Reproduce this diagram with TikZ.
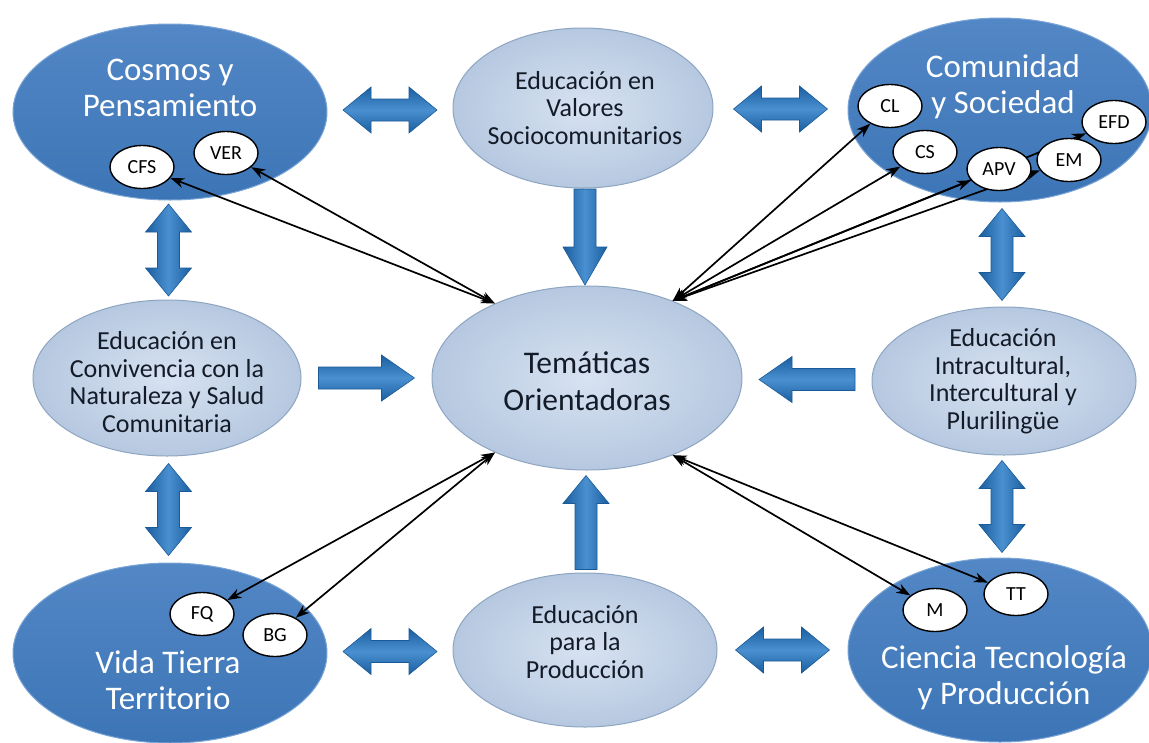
\documentclass[tikz,border=0pt]{standalone}
\usepackage{fontspec}
\setmainfont{Carlito}
\usetikzlibrary{shapes.geometric,arrows.meta,calc}
\pgfdeclarelayer{bg}
\pgfdeclarelayer{mid}
\pgfsetlayers{bg,mid,main}
\definecolor{darkTop}{HTML}{5387C6}
\definecolor{darkBot}{HTML}{3C75B6}
\definecolor{edgeD}{HTML}{7AA5D6}
\definecolor{lightIn}{HTML}{D7E2F1}
\definecolor{lightOut}{HTML}{B6C8E0}
\definecolor{edgeL}{HTML}{8EA5C2}
\definecolor{navytext}{HTML}{141B28}
\definecolor{arrDark}{HTML}{1A5E9F}
\definecolor{arrLight}{HTML}{4A90D0}
\definecolor{arrEdge}{HTML}{1A5A98}
\begin{document}
\begin{tikzpicture}[x=1pt,y=-1pt,
  bigdark/.style={ellipse, draw=edgeD, line width=1pt, top color=darkTop, bottom color=darkBot, inner sep=0pt},
  biglight/.style={ellipse, draw=edgeL, line width=1pt, inner color=lightIn, outer color=lightOut, inner sep=0pt},
  darktext/.style={text=white, align=center, inner sep=0pt, font=\fontsize{33}{36}\selectfont},
  lighttext/.style={text=navytext, align=center, inner sep=0pt, font=\fontsize{26}{27.5}\selectfont},
  centertext/.style={text=navytext, align=center, inner sep=0pt, font=\fontsize{31.5}{37}\selectfont},
  small/.style={ellipse, draw=black, line width=1.4pt, fill=white, minimum width=64pt, minimum height=43pt, inner sep=0pt, font=\fontsize{20}{22}\selectfont},
  link/.style={line width=1.7pt, {Stealth[length=14pt,width=10pt]}-{Stealth[length=14pt,width=10pt]}},
  barrowH/.style={top color=arrDark, bottom color=arrDark, middle color=arrLight, draw=arrEdge, line width=0.6pt},
  barrowV/.style={left color=arrDark, right color=arrDark, middle color=arrLight, draw=arrEdge, line width=0.6pt},
  pics/dblh/.style={code={\path[barrowH] (-47,0) -- (-19,-23) -- (-19,-11) -- (19,-11) -- (19,-23) -- (47,0) -- (19,23) -- (19,11) -- (-19,11) -- (-19,23) -- cycle;}},
  pics/dblv/.style={code={\path[barrowV] (0,-46) -- (23,-18) -- (11,-18) -- (11,18) -- (23,18) -- (0,46) -- (-23,18) -- (-11,18) -- (-11,-18) -- (-23,-18) -- cycle;}},
  pics/arrR/.style={code={\path[barrowH] (-48,-11) -- (15,-11) -- (15,-23) -- (48,0) -- (15,23) -- (15,11) -- (-48,11) -- cycle;}},
  pics/arrL/.style={code={\path[barrowH] (48,-11) -- (-15,-11) -- (-15,-23) -- (-48,0) -- (-15,23) -- (-15,11) -- (48,11) -- cycle;}},
  pics/arrD/.style={code={\path[barrowV] (-11,-48) -- (-11,10) -- (-22,10) -- (0,48) -- (22,10) -- (11,10) -- (11,-48) -- cycle;}},
  pics/arrU/.style={code={\path[barrowV] (-11,48) -- (-11,-18) -- (-23,-18) -- (0,-46) -- (23,-18) -- (11,-18) -- (11,48) -- cycle;}},
]
\useasboundingbox (0,0) rectangle (1149,742);

\begin{pgfonlayer}{bg}
  \fill[white] (0,0) rectangle (1149,742);
  % big ellipses
  \node[bigdark, minimum width=314pt, minimum height=176pt] (cosmos) at (170,112) {};
  \node[biglight, minimum width=260pt, minimum height=160pt] (valores) at (583,108) {};
  \node[bigdark, minimum width=304pt, minimum height=184pt] (comunidad) at (1000,110) {};
  \node[biglight, minimum width=268pt, minimum height=156pt] (conviv) at (167,378) {};
  \node[biglight, minimum width=310pt, minimum height=184pt] (tem) at (587,378) {};
  \node[biglight, minimum width=264pt, minimum height=148pt] (intra) at (1004,381) {};
  \node[bigdark, minimum width=314pt, minimum height=180pt] (vida) at (170,653) {};
  \node[biglight, minimum width=264pt, minimum height=154pt] (prod) at (585,650) {};
  \node[bigdark, minimum width=304pt, minimum height=184pt] (ciencia) at (1000,650) {};

  % texts
  \node[darktext] (tcosmos) at (170,88) {Cosmos y\\Pensamiento};
  \node[darktext] (tcomunidad) at (1003,87) {Comunidad\\y Sociedad};
  \node[darktext] (tvida) at (168,680) {Vida Tierra\\Territorio};
  \node[darktext] (tciencia) at (1004,678) {Ciencia Tecnología\\y Producción};
  \node[lighttext] (tvalores) at (585,108) {Educación en\\Valores\\Sociocomunitarios};
  \node[lighttext] (tconviv) at (167,382) {Educación en\\Convivencia con la\\Naturaleza y Salud\\Comunitaria};
  \node[lighttext] (tintra) at (1003,381) {Educación\\Intracultural,\\Intercultural y\\Plurilingüe};
  \node[lighttext] (tprod) at (585,642) {Educación\\para la\\Producción};
  \node[centertext] (ttem) at (587,381) {Temáticas\\Orientadoras};

  % block arrows
  \pic at ($(cosmos.east)!0.5!(valores.west)$) {dblh};
  \pic at ($(valores.east)!0.5!(comunidad.west)$) {dblh};
  \pic at ($(vida.east)!0.5!(prod.west)$) {dblh};
  \pic at ($(prod.east)!0.5!(ciencia.west)$) {dblh};
  \pic at ($(cosmos.south)!0.5!(conviv.north)$) {dblv};
  \pic at ($(conviv.south)!0.5!(vida.north)$) {dblv};
  \pic at ($(comunidad.south)!0.5!(intra.north)$) {dblv};
  \pic at ($(intra.south)!0.5!(ciencia.north)$) {dblv};
  \pic at ($(valores.south)!0.5!(tem.north)$) {arrD};
  \pic at ($(prod.north)!0.5!(tem.south)$) {arrU};
  \pic at ($(conviv.east)!0.5!(tem.west)$) {arrR};
  \pic at ($(tem.east)!0.5!(intra.west)$) {arrL};
\end{pgfonlayer}

% small nodes
\node[small] (cfs) at (142,167) {CFS};
\node[small] (ver) at (226,153) {VER};
\node[small] (cl) at (890,106) {CL};
\node[small] (cs) at (925,152) {CS};
\node[small] (apv) at (999,169) {APV};
\node[small] (em) at (1069,160) {EM};
\node[small] (efd) at (1114,122) {EFD};
\node[small] (fq) at (202,614) {FQ};
\node[small] (bg) at (275,635) {BG};
\node[small] (m) at (935,610) {M};
\node[small] (tt) at (1016,594) {TT};

\begin{pgfonlayer}{mid}
  \draw[link] (tem.141) -- (cfs);
  \draw[link] (tem.141) -- (ver);
  \draw[link] (tem.42) -- (cl);
  \draw[link] (tem.42) -- (cs);
  \draw[link] (tem.42) -- (apv);
  \draw[link] (tem.42) -- (em);
  \draw[link] (tem.42) -- (efd);
  \draw[link] (tem.219) -- (fq);
  \draw[link] (tem.219) -- (bg);
  \draw[link] (tem.318) -- (m);
  \draw[link] (tem.318) -- (tt);
\end{pgfonlayer}
\end{tikzpicture}
\end{document}
